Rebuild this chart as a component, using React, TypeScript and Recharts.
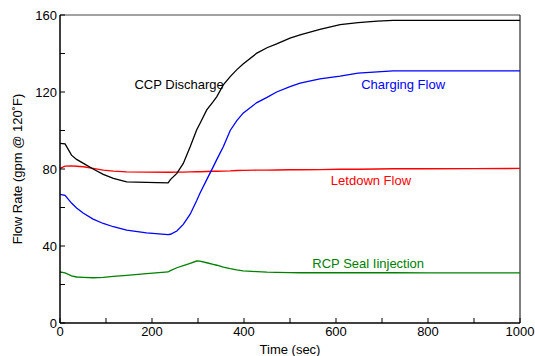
import { Label, Line, LineChart, ReferenceDot, ReferenceLine, XAxis, YAxis } from "recharts";

const time = [0, 11, 25, 36, 51, 72, 94, 116, 145, 188, 235, 240, 254, 268, 283, 297, 304, 319, 333, 341, 355, 370, 384, 398, 428, 450, 471, 500, 522, 565, 609, 648, 690, 724, 800, 900, 1000];
const ccpDischarge = [93.3, 93, 87.2, 85, 82.9, 80, 77.2, 75.1, 73.3, 73, 72.8, 74.5, 77.7, 82.9, 91.6, 100.3, 103.5, 110.7, 115, 117.6, 123.7, 128, 131.5, 134.5, 140.2, 143, 145, 148, 149.7, 152.5, 155, 156, 156.8, 157.2, 157.2, 157.2, 157.2];
const chargingFlow = [66.8, 66.3, 62.3, 59.7, 57, 54, 51.7, 50, 48.2, 46.8, 45.9, 46.1, 47.8, 51.2, 56.5, 63.5, 67.3, 74.5, 81.1, 85, 91.6, 100, 105, 109, 114.5, 117.2, 120, 122.8, 124.6, 126.8, 128.2, 129.8, 130.5, 131, 131, 131, 131];
const letdownFlow = [80.3, 81.5, 81.6, 81.4, 81.2, 80.3, 79.4, 78.9, 78.5, 78.4, 78.3, 78.3, 78.4, 78.4, 78.5, 78.6, 78.6, 78.7, 78.8, 78.8, 78.9, 79, 79.2, 79.3, 79.4, 79.4, 79.5, 79.6, 79.6, 79.7, 79.9, 79.9, 80, 80.1, 80.1, 80.2, 80.3];
const sealInjection = [26.5, 26, 24.5, 23.9, 23.7, 23.5, 23.7, 24.2, 24.7, 25.6, 26.5, 27.2, 28.7, 29.8, 31, 32.2, 32.1, 31.3, 30.5, 30, 29, 28.2, 27.6, 27.1, 26.7, 26.4, 26.3, 26.2, 26.1, 26.1, 26.1, 26.1, 26.1, 26.1, 26, 26, 26];

const xTicks = [0, 100, 200, 300, 400, 500, 600, 700, 800, 900, 1000];
const yTicks = [0, 20, 40, 60, 80, 100, 120, 140, 160];

const seriesLabels = [
  { text: "CCP Discharge", t: 259, v: 123.7, color: "#000000" },
  { text: "Charging Flow", t: 746, v: 124.2, color: "#0000ff" },
  { text: "Letdown Flow", t: 676, v: 74, color: "#ff0000" },
  { text: "RCP Seal Iinjection", t: 670, v: 31, color: "#008000" },
];

const data = time.map((t, i) => ({
  t,
  ccp: ccpDischarge[i],
  charging: chargingFlow[i],
  letdown: letdownFlow[i],
  seal: sealInjection[i],
}));

const font = "'Liberation Sans', Arial, sans-serif";

export default function App() {
  return (
    <div style={{ position: "absolute", left: 0, top: 0, fontFamily: font }}>
      <LineChart width={535} height={356} data={data} margin={{ top: 15, right: 15, left: 0, bottom: 0 }}>
        <XAxis
          dataKey="t"
          type="number"
          domain={[0, 1000]}
          ticks={xTicks}
          tickFormatter={(v: number) => (v % 200 === 0 ? String(v) : "")}
          tick={{ fontSize: 13, fill: "#000", fontFamily: font }}
          tickSize={-5}
          tickMargin={9}
          height={33}
          axisLine={{ stroke: "#000", strokeWidth: 1.5 }}
          tickLine={{ stroke: "#000" }}
        >
          <Label value="Time (sec)" position="insideBottom" offset={2} style={{ fontSize: 13, fill: "#000", fontFamily: font }} />
        </XAxis>
        <YAxis
          type="number"
          domain={[0, 160]}
          ticks={yTicks}
          tickFormatter={(v: number) => (v % 40 === 0 ? String(v) : "")}
          tick={{ fontSize: 13, fill: "#000", fontFamily: font }}
          tickSize={-5}
          tickMargin={8}
          width={60}
          axisLine={{ stroke: "#000", strokeWidth: 1.5 }}
          tickLine={{ stroke: "#000" }}
        >
          <Label
            value="Flow Rate (gpm @ 120˚F)"
            angle={-90}
            position="insideLeft"
            offset={17}
            style={{ fontSize: 13, fill: "#000", fontFamily: font, textAnchor: "middle" }}
          />
        </YAxis>
        <ReferenceLine y={160} stroke="#444" strokeWidth={1} />
        <ReferenceLine x={1000} stroke="#000" strokeWidth={1} />
        <Line dataKey="letdown" stroke="#ff0000" strokeWidth={1.4} dot={false} isAnimationActive={false} />
        <Line dataKey="seal" stroke="#008000" strokeWidth={1.3} dot={false} isAnimationActive={false} />
        <Line dataKey="charging" stroke="#0000ff" strokeWidth={1.3} dot={false} isAnimationActive={false} />
        <Line dataKey="ccp" stroke="#000000" strokeWidth={1.3} dot={false} isAnimationActive={false} />
        {seriesLabels.map((s) => (
          <ReferenceDot
            key={s.text}
            x={s.t}
            y={s.v}
            r={0}
            fill="none"
            stroke="none"
            label={{ value: s.text, position: "center", fill: s.color, fontSize: 13, fontFamily: font }}
          />
        ))}
      </LineChart>
    </div>
  );
}
